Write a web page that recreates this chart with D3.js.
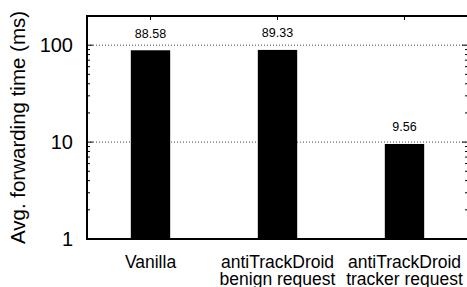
<!DOCTYPE html>
<html>
<head>
<meta charset="utf-8">
<script src="https://cdn.jsdelivr.net/npm/d3@7"></script>
<style>
  body { margin: 0; background: #fff; }
  svg { display: block; font-family: "Liberation Sans", Arial, Helvetica, sans-serif; }
</style>
</head>
<body>
<div id="chart"></div>
<script>
// Forwarding time chart data
const categories = [["Vanilla"], ["antiTrackDroid", "benign request"], ["antiTrackDroid", "tracker request"]];
const values = [88.58, 89.33, 9.56];
const valueLabels = ["88.58", "89.33", "9.56"];
const yTicks = [1, 10, 100];
const yLabel = "Avg. forwarding time (ms)";

const width = 467, height = 287;
const margin = { top: 16, right: -1, bottom: 48, left: 87 };
const chartWidth = width - margin.left - margin.right;
const chartHeight = height - margin.top - margin.bottom;

const svg = d3.select('#chart').append('svg')
    .attr('width', width)
    .attr('height', height);

const g = svg.append('g')
    .attr('transform', `translate(${margin.left},${margin.top})`);

// Scales
const xScale = d3.scaleLinear()
    .domain([-0.5, categories.length - 0.5])
    .range([0, chartWidth]);

const yScale = d3.scaleLog()
    .domain([1, 200])
    .range([chartHeight, 0]);

const barWidth = (xScale(1) - xScale(0)) * 0.31;

// Grid lines at major ticks
g.selectAll('.grid')
    .data(yTicks.slice(1))
    .join('line')
    .attr('class', 'grid')
    .attr('x1', 0)
    .attr('x2', chartWidth)
    .attr('y1', d => yScale(d))
    .attr('y2', d => yScale(d))
    .attr('stroke', '#444')
    .attr('stroke-width', 1)
    .attr('stroke-dasharray', '1,2');

// Minor / major ticks on left and right (mirrored)
const allTicks = [];
for (let dec = 1; dec <= 100; dec *= 10) {
    for (let m = 1; m <= 9; m++) {
        const v = dec * m;
        if (v <= 200) allTicks.push({ v, major: m === 1 });
    }
}

[0, chartWidth].forEach((x0, side) => {
    g.selectAll(`.ytick-${side}`)
        .data(allTicks)
        .join('line')
        .attr('class', `ytick-${side}`)
        .attr('x1', x0)
        .attr('x2', d => x0 + (side === 0 ? 1 : -1) * (d.major ? 6 : 3))
        .attr('y1', d => yScale(d.v))
        .attr('y2', d => yScale(d.v))
        .attr('stroke', '#000')
        .attr('stroke-width', 1);
});

// Top ticks at category centers
g.selectAll('.xtick')
    .data(categories)
    .join('line')
    .attr('class', 'xtick')
    .attr('x1', (d, i) => xScale(i))
    .attr('x2', (d, i) => xScale(i))
    .attr('y1', 0)
    .attr('y2', 4)
    .attr('stroke', '#000');

// Bars
g.selectAll('.bar')
    .data(values)
    .join('rect')
    .attr('class', 'bar')
    .attr('x', (d, i) => xScale(i) - barWidth / 2)
    .attr('y', d => yScale(d))
    .attr('width', barWidth)
    .attr('height', d => chartHeight - yScale(d))
    .attr('fill', '#000');

// Value labels
g.selectAll('.val')
    .data(values)
    .join('text')
    .attr('class', 'val')
    .attr('x', (d, i) => xScale(i))
    .attr('y', d => yScale(d) - 12.5)
    .attr('text-anchor', 'middle')
    .attr('font-size', '12.5px')
    .attr('fill', '#000')
    .text((d, i) => valueLabels[i]);

// Frame
g.append('rect')
    .attr('x', 0)
    .attr('y', 0)
    .attr('width', chartWidth)
    .attr('height', chartHeight)
    .attr('fill', 'none')
    .attr('stroke', '#000')
    .attr('stroke-width', 2);

// Y tick labels
g.selectAll('.ylab')
    .data(yTicks)
    .join('text')
    .attr('class', 'ylab')
    .attr('x', -14)
    .attr('y', d => yScale(d))
    .attr('dy', '0.36em')
    .attr('text-anchor', 'end')
    .attr('font-size', '20px')
    .text(d => d);

// Category labels
const catText = g.selectAll('.cat')
    .data(categories)
    .join('text')
    .attr('class', 'cat')
    .attr('text-anchor', 'middle')
    .attr('font-size', '17.5px');
catText.selectAll('tspan')
    .data((d, i) => d.map(t => ({ t, i })))
    .join('tspan')
    .attr('x', d => xScale(d.i))
    .attr('y', (d, j) => chartHeight + 29 + j * 17)
    .text(d => d.t);

// Y axis label
svg.append('text')
    .attr('transform', `translate(25,${margin.top + chartHeight / 2}) rotate(-90)`)
    .attr('text-anchor', 'middle')
    .attr('font-size', '20.5px')
    .text(yLabel);
</script>
</body>
</html>
